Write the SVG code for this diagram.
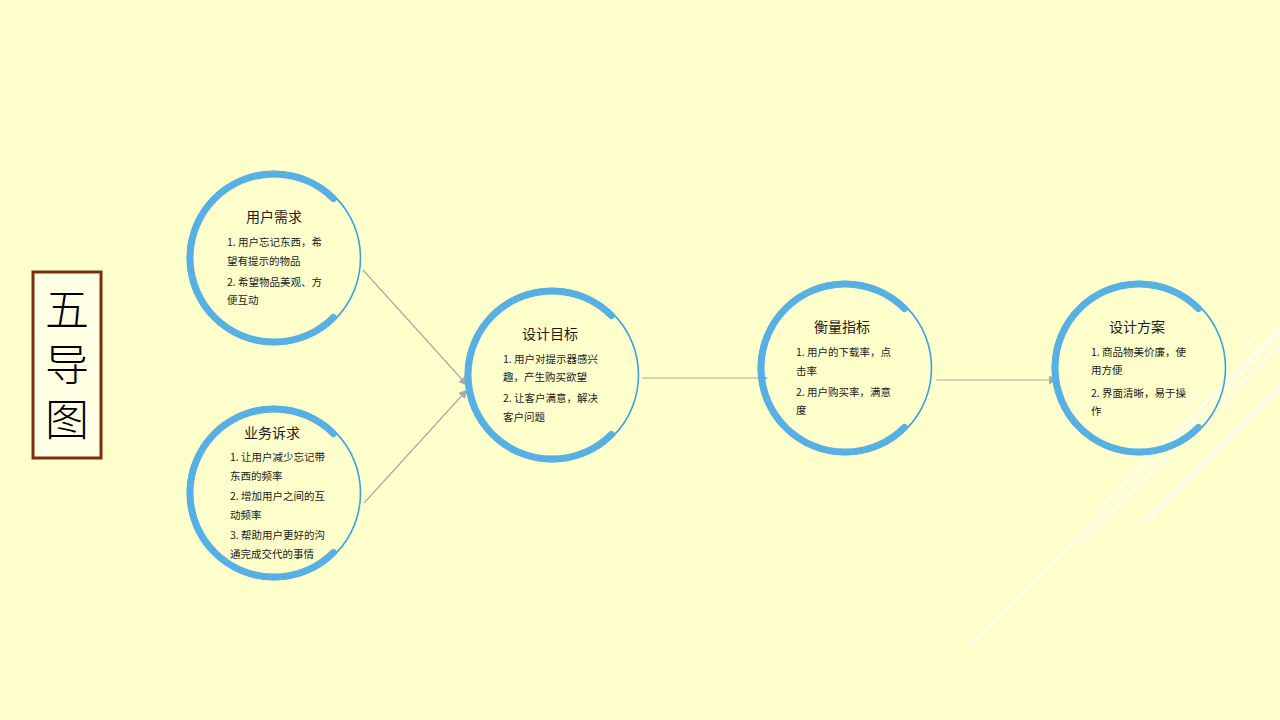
<svg xmlns="http://www.w3.org/2000/svg" width="1280" height="720" viewBox="0 0 1280 720">
<defs>
<style>
.bg{fill:#FFFFCC}
.thin{fill:none;stroke:#3DA2E4;stroke-width:1.6}
.thick{fill:none;stroke:#56B0E4;stroke-width:7;stroke-linecap:round}
.title{font-family:"Noto Sans CJK SC","Noto Sans",sans-serif;font-size:14px;fill:#1a1a1a;text-anchor:middle}
.body{font-family:"Noto Sans CJK SC","Noto Sans",sans-serif;font-size:10.5px;fill:#1a1a1a}
.conn{fill:none;stroke:#AAAAAA;stroke-width:1.2}
.deco{stroke:#FFFFFF;fill:none}
.big{font-family:"Noto Sans CJK SC",sans-serif;font-size:44px;font-weight:300;fill:#000;writing-mode:vertical-rl;letter-spacing:11px}
</style>
<marker id="arr" viewBox="0 0 10 10" refX="9" refY="5" markerWidth="9" markerHeight="9" markerUnits="userSpaceOnUse" orient="auto">
<path d="M0,0 L10,5 L0,10 z" fill="#AAAAAA"/>
</marker>
<g id="ring">
<circle cx="0" cy="0" r="86.5" class="thin"/>
<path class="thick" d="M59.4,-59.4 A84,84 0 1 0 59.4,59.4"/>
</g>
</defs>
<rect class="bg" x="0" y="0" width="1280" height="720"/>
<line x1="255" y1="106" x2="1230" y2="106" stroke="#FFFFFF" stroke-opacity="0.8" stroke-width="1"/>
<g id="decor">
<line class="deco" x1="967" y1="648" x2="1280" y2="334" stroke-width="1.5"/>
<line class="deco" x1="1183" y1="406" x2="1280" y2="312" stroke-width="1"/>
<line class="deco" x1="1095" y1="512" x2="1280" y2="328" stroke-width="2"/>
<line class="deco" x1="1080" y1="544" x2="1280" y2="345" stroke-width="1.5"/>
<line class="deco" x1="1145" y1="521" x2="1280" y2="386" stroke-width="2.5"/>
</g>
<g id="title-box">
<rect x="33" y="272" width="68" height="186" fill="#FFFFE4" stroke="#7A2E0C" stroke-width="3"/>
<text class="big" x="67" y="287">五导图</text>
</g>
<g id="connectors">
<line class="conn" x1="363" y1="270" x2="467" y2="385" marker-end="url(#arr)"/>
<line class="conn" x1="364" y1="503" x2="467" y2="390" marker-end="url(#arr)"/>
<line class="conn" x1="642" y1="378" x2="767" y2="378" marker-end="url(#arr)"/>
<line class="conn" x1="936" y1="380" x2="1057" y2="380" marker-end="url(#arr)"/>
</g>
<g id="node-yonghuxuqiu">
<use href="#ring" x="274" y="258"/>
<text class="title" x="274" y="222">用户需求</text>
<text class="body" x="227" y="246">1. 用户忘记东西，希</text>
<text class="body" x="227" y="265">望有提示的物品</text>
<text class="body" x="227" y="286">2. 希望物品美观、方</text>
<text class="body" x="227" y="304">便互动</text>
</g>
<g id="node-yewusuqiu">
<use href="#ring" x="274" y="493"/>
<text class="title" x="272" y="438">业务诉求</text>
<text class="body" x="230" y="461">1. 让用户减少忘记带</text>
<text class="body" x="230" y="480">东西的频率</text>
<text class="body" x="230" y="500">2. 增加用户之间的互</text>
<text class="body" x="230" y="519">动频率</text>
<text class="body" x="230" y="539">3. 帮助用户更好的沟</text>
<text class="body" x="230" y="558">通完成交代的事情</text>
</g>
<g id="node-shejimubiao">
<use href="#ring" x="552" y="375"/>
<text class="title" x="550" y="339">设计目标</text>
<text class="body" x="503" y="363">1. 用户对提示器感兴</text>
<text class="body" x="503" y="381">趣，产生购买欲望</text>
<text class="body" x="503" y="402">2. 让客户满意，解决</text>
<text class="body" x="503" y="421">客户问题</text>
</g>
<g id="node-hengliangzhibiao">
<use href="#ring" x="845" y="368"/>
<text class="title" x="842" y="332">衡量指标</text>
<text class="body" x="796" y="356">1. 用户的下载率，点</text>
<text class="body" x="796" y="375">击率</text>
<text class="body" x="796" y="396">2. 用户购买率，满意</text>
<text class="body" x="796" y="414">度</text>
</g>
<g id="node-shejifangan">
<use href="#ring" x="1139" y="368"/>
<text class="title" x="1137" y="332">设计方案</text>
<text class="body" x="1091" y="356">1. 商品物美价廉，使</text>
<text class="body" x="1091" y="374">用方便</text>
<text class="body" x="1091" y="397">2. 界面清晰，易于操</text>
<text class="body" x="1091" y="415">作</text>
</g>
</svg>
